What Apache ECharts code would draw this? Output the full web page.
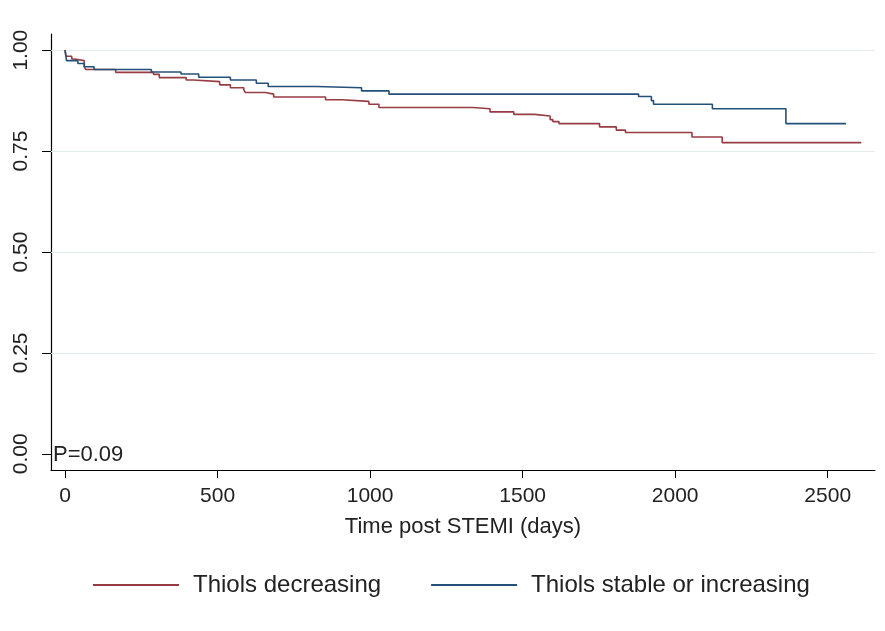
<!DOCTYPE html>
<html>
<head>
<meta charset="utf-8">
<script src="https://cdn.jsdelivr.net/npm/echarts@6/dist/echarts.min.js"></script>
<style>
html,body{margin:0;padding:0;background:#fff;}
#KMChart{width:885px;height:631px;}
</style>
</head>
<body>
<div id="KMChart"></div>
<script>
//Kaplan-Meier 曲线数据（天数 / 生存率）
var redDays = [0, 3, 22, 30, 63, 68, 166, 290, 309, 397, 421, 507, 542, 586, 591, 657, 684, 854, 907, 996, 1029, 1337, 1393, 1471, 1539, 1590, 1599, 1619, 1752, 1807, 1837, 2055, 2154, 2610];
var redSurv = [1.0, 0.985, 0.978, 0.974, 0.959, 0.952, 0.945, 0.940, 0.932, 0.926, 0.922, 0.914, 0.907, 0.902, 0.895, 0.891, 0.884, 0.877, 0.873, 0.866, 0.858, 0.855, 0.847, 0.841, 0.837, 0.828, 0.823, 0.818, 0.810, 0.802, 0.796, 0.785, 0.771, 0.771];
var blueDays = [0, 5, 42, 63, 95, 283, 380, 438, 542, 627, 666, 825, 972, 1062, 1880, 1922, 1929, 2122, 2363, 2560];
var blueSurv = [1.0, 0.974, 0.967, 0.959, 0.952, 0.946, 0.941, 0.933, 0.926, 0.918, 0.910, 0.907, 0.899, 0.891, 0.885, 0.875, 0.866, 0.855, 0.818, 0.818];
var xTicks = [0, 500, 1000, 1500, 2000, 2500];
var yTicks = [0, 0.25, 0.5, 0.75, 1];
var gridVals = [0.25, 0.5, 0.75, 1];
var seriesNames = ['Thiols decreasing', 'Thiols stable or increasing'];

function pairs(days, surv){
	var out = [];
	for(var i=0; i<days.length; i++){
		out.push([days[i], surv[i]]);
	}
	return out;
}

var myChart = echarts.init(document.getElementById('KMChart'));
var font = 'Liberation Sans, Arial, sans-serif';
var option = {
	animation: false,
	backgroundColor: '#fff',
	grid: {left: 51, right: 10, top: 34, bottom: 161},
	legend: {
		data: seriesNames,
		left: 88,
		top: 568,
		icon: 'rect',
		itemWidth: 86,
		itemHeight: 2,
		itemGap: 50,
		textStyle: {fontFamily: font, fontSize: 24, color: '#222', padding: [0, 0, 0, 9]}
	},
	xAxis: {
		type: 'value',
		min: -46,
		max: 2655,
		name: 'Time post STEMI (days)',
		nameLocation: 'middle',
		nameGap: 46,
		nameTextStyle: {fontFamily: font, fontSize: 22, color: '#222'},
		axisLine: {onZero: false, lineStyle: {color: '#000', width: 1.2}},
		axisTick: {length: 8, customValues: xTicks, lineStyle: {color: '#000'}},
		axisLabel: {
			customValues: xTicks,
			margin: 16,
			fontFamily: font,
			fontSize: 21,
			color: '#222',
			formatter: function(v){ return String(v); }
		},
		splitLine: {show: false}
	},
	yAxis: {
		type: 'value',
		min: -0.04,
		max: 1.04,
		axisLine: {show: true, onZero: false, lineStyle: {color: '#000', width: 1.2}},
		axisTick: {show: true, length: 9, customValues: yTicks, lineStyle: {color: '#000'}},
		axisLabel: {
			customValues: yTicks,
			rotate: 90,
			margin: 19,
			fontFamily: font,
			fontSize: 21,
			color: '#222',
			formatter: function(v){ return v.toFixed(2); }
		},
		splitLine: {show: false}
	},
	graphic: [{
		type: 'text',
		left: 53,
		top: 444,
		style: {text: 'P=0.09', font: '22px ' + font, fill: '#222'}
	}],
	series: [
		{
			name: seriesNames[0],
			type: 'line',
			step: 'end',
			showSymbol: false,
			color: '#983c44',
			lineStyle: {width: 1.6},
			data: pairs(redDays, redSurv),
			z: 3,
			markLine: {
				silent: true,
				symbol: 'none',
				label: {show: false},
				lineStyle: {color: '#e2ecef', width: 1, type: 'solid'},
				data: gridVals.map(function(v){ return {yAxis: v}; }),
				z: 1
			}
		},
		{
			name: seriesNames[1],
			type: 'line',
			step: 'end',
			showSymbol: false,
			color: '#245079',
			lineStyle: {width: 1.6},
			data: pairs(blueDays, blueSurv),
			z: 4
		}
	]
};
myChart.setOption(option);
window.onresize = myChart.resize;
</script>
</body>
</html>
